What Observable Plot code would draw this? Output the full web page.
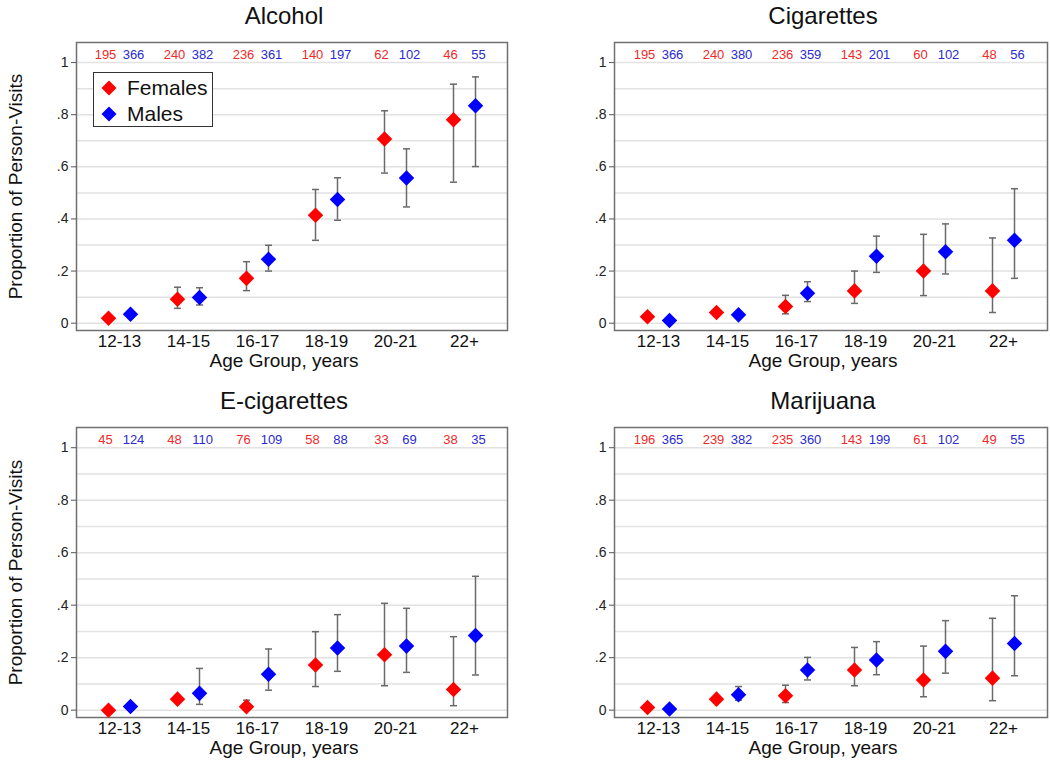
<!DOCTYPE html>
<html>
<head>
<meta charset="utf-8">
<script src="https://cdn.jsdelivr.net/npm/d3@7"></script>
<script src="https://cdn.jsdelivr.net/npm/@observablehq/plot@0.6"></script>
<style>
  html, body { margin: 0; padding: 0; background: #fff; }
  #root { position: relative; width: 1050px; height: 761px; font-family: "Liberation Sans", Arial, sans-serif; }
  .panel { position: absolute; }
  #legend { position: absolute; left: 93px; top: 72px; width: 118px; height: 53px; border: 1.5px solid #333; background: #fff; }
  #legend .row { position: absolute; left: 7px; height: 26px; display: flex; align-items: center; font-size: 21px; color: #111; }
  #legend svg { margin-right: 10px; }
</style>
</head>
<body>
<div id="root"></div>
<script>
// ---------- data ----------
const ages = ["12-13", "14-15", "16-17", "18-19", "20-21", "22+"];
const titles = ["Alcohol", "Cigarettes", "E-cigarettes", "Marijuana"];
const yTicks = [0, 0.2, 0.4, 0.6, 0.8, 1];

// Alcohol
const alcFEst = [0.019, 0.092, 0.172, 0.414, 0.707, 0.781];
const alcFLo  = [null, 0.057, 0.125, 0.318, 0.576, 0.541];
const alcFHi  = [null, 0.138, 0.236, 0.513, 0.815, 0.917];
const alcMEst = [0.034, 0.099, 0.245, 0.475, 0.557, 0.834];
const alcMLo  = [null, 0.070, 0.200, 0.395, 0.446, 0.601];
const alcMHi  = [null, 0.136, 0.299, 0.558, 0.669, 0.945];
const alcFN = [195, 240, 236, 140, 62, 46];
const alcMN = [366, 382, 361, 197, 102, 55];

// Cigarettes
const cigFEst = [0.025, 0.041, 0.064, 0.124, 0.200, 0.124];
const cigFLo  = [null, null, 0.036, 0.076, 0.106, 0.041];
const cigFHi  = [null, null, 0.107, 0.200, 0.341, 0.327];
const cigMEst = [0.010, 0.032, 0.115, 0.257, 0.274, 0.318];
const cigMLo  = [null, null, 0.083, 0.195, 0.189, 0.172];
const cigMHi  = [null, null, 0.159, 0.334, 0.381, 0.516];
const cigFN = [195, 240, 236, 143, 60, 48];
const cigMN = [366, 380, 359, 201, 102, 56];

// E-cigarettes
const ecFEst = [0.000, 0.042, 0.013, 0.172, 0.211, 0.079];
const ecFLo  = [null, null, 0.000, 0.090, 0.093, 0.017];
const ecFHi  = [null, null, 0.038, 0.299, 0.407, 0.280];
const ecMEst = [0.014, 0.064, 0.137, 0.237, 0.244, 0.284];
const ecMLo  = [null, 0.022, 0.076, 0.148, 0.144, 0.134];
const ecMHi  = [null, 0.159, 0.233, 0.364, 0.388, 0.510];
const ecFN = [45, 48, 76, 58, 33, 38];
const ecMN = [124, 110, 109, 88, 69, 35];

// Marijuana
const mjFEst = [0.010, 0.042, 0.055, 0.153, 0.115, 0.122];
const mjFLo  = [null, null, 0.029, 0.093, 0.051, 0.036];
const mjFHi  = [null, null, 0.095, 0.239, 0.244, 0.350];
const mjMEst = [0.004, 0.059, 0.153, 0.191, 0.224, 0.254];
const mjMLo  = [null, 0.038, 0.115, 0.135, 0.141, 0.131];
const mjMHi  = [null, 0.090, 0.201, 0.261, 0.341, 0.436];
const mjFN = [196, 239, 235, 143, 61, 49];
const mjMN = [365, 382, 360, 199, 102, 55];

// ---------- build ----------
function series(est, lo, hi, n) {
  return ages.map((a, i) => ({age: a, est: est[i], lo: lo[i], hi: hi[i], n: n[i]}));
}
const panels = [
  {title: titles[0], F: series(alcFEst, alcFLo, alcFHi, alcFN), M: series(alcMEst, alcMLo, alcMHi, alcMN)},
  {title: titles[1], F: series(cigFEst, cigFLo, cigFHi, cigFN), M: series(cigMEst, cigMLo, cigMHi, cigMN)},
  {title: titles[2], F: series(ecFEst, ecFLo, ecFHi, ecFN), M: series(ecMEst, ecMLo, ecMHi, ecMN)},
  {title: titles[3], F: series(mjFEst, mjFLo, mjFHi, mjFN), M: series(mjMEst, mjMLo, mjMHi, mjMN)}
];

const RED = "#ff0000", BLUE = "#0000ff";
const RED_T = "#ee2a2a", BLUE_T = "#2a2ad0";
const capSymbol = {draw(ctx) { ctx.moveTo(-3.5, 0); ctx.lineTo(3.5, 0); }};
const fmt = d => d === 0 ? "0" : d === 1 ? "1" : String(d).replace(/^0/, "");

function panel(p, idx) {
  const left = idx % 2 === 0;
  const top = idx < 2;
  const width = 525, height = top ? 380 : 376;
  const marks = [
    Plot.gridY(d3.range(0, 1.001, 0.1), {stroke: "#e2e2e2", strokeOpacity: 1, strokeWidth: 1.5}),
    Plot.frame({stroke: "#707070", strokeWidth: 1.5}),
    Plot.axisY({ticks: yTicks, tickFormat: fmt, tickSize: 5, tickPadding: 3, fontSize: 14, label: null, stroke: "#555", color: "#222"}),
    Plot.axisX({tickSize: 0, tickPadding: 4, fontSize: 17, label: null, color: "#111"}),
    Plot.text([p.title], {frameAnchor: "top", dy: -26, dx: -8, lineAnchor: "middle", textAnchor: "middle", fontSize: 24, fill: "#111"}),
    Plot.text(["Age Group, years"], {frameAnchor: "bottom", dy: 30, dx: -8, lineAnchor: "middle", textAnchor: "middle", fontSize: 19, fill: "#111"})
  ];
  if (left) {
    marks.push(Plot.text(["Proportion of Person-Visits"], {frameAnchor: "left", rotate: -90, dx: -61, lineAnchor: "middle", textAnchor: "middle", fontSize: 19, fill: "#111"}));
  }
  for (const [key, color, tcolor, off, toff] of [["F", RED, RED_T, -11, -14], ["M", BLUE, BLUE_T, 11, 14]]) {
    const data = p[key];
    const ci = data.filter(d => d.lo != null && d.hi != null);
    marks.push(
      Plot.ruleX(ci, {x: "age", y1: "lo", y2: "hi", dx: off, stroke: "#6a6a6a", strokeWidth: 1.5}),
      Plot.dot(ci, {x: "age", y: "lo", dx: off, symbol: capSymbol, fill: "none", stroke: "#6a6a6a", strokeWidth: 1.5}),
      Plot.dot(ci, {x: "age", y: "hi", dx: off, symbol: capSymbol, fill: "none", stroke: "#6a6a6a", strokeWidth: 1.5}),
      Plot.dot(data, {x: "age", y: "est", dx: off, symbol: "diamond2", r: 7, fill: color, stroke: "none"}),
      Plot.text(data, {x: "age", y: () => 1.03, text: d => String(d.n), dx: toff, fill: tcolor, fontSize: 13})
    );
  }
  const chart = Plot.plot({
    width, height,
    marginLeft: left ? 76 : 89,
    marginRight: left ? 18 : 3,
    marginTop: 42,
    marginBottom: top ? 50 : 44,
    style: {fontFamily: "'Liberation Sans', Arial, sans-serif", background: "transparent", overflow: "visible"},
    x: {type: "point", domain: ages, padding: 0.6},
    y: {domain: [-0.028, 1.077]},
    marks
  });
  const wrap = document.createElement("div");
  wrap.className = "panel";
  wrap.style.left = (left ? 0 : 525) + "px";
  wrap.style.top = (top ? 0 : 385) + "px";
  wrap.appendChild(chart);
  return wrap;
}

const root = document.getElementById("root");
panels.forEach((p, i) => root.appendChild(panel(p, i)));

// legend (top-left panel)
const legend = document.createElement("div");
legend.id = "legend";
const diamond = c => `<svg width="16" height="16" viewBox="-8 -8 16 16"><path d="M0,-7.5L7.5,0L0,7.5L-7.5,0Z" fill="${c}"/></svg>`;
legend.innerHTML =
  `<div class="row" style="top:2px">${diamond(RED)}Females</div>` +
  `<div class="row" style="top:28px">${diamond(BLUE)}Males</div>`;
root.appendChild(legend);
</script>
</body>
</html>
